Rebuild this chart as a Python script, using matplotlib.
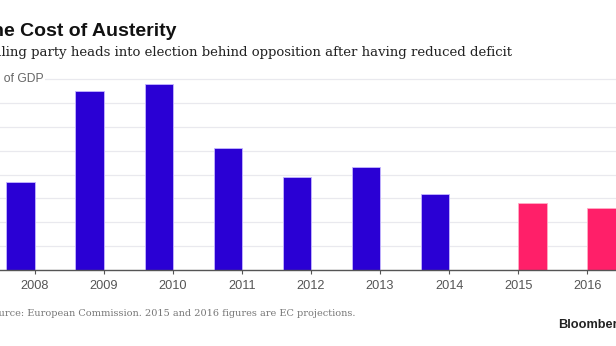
import numpy as np
import matplotlib
matplotlib.use("Agg")
import matplotlib.pyplot as plt

# budget deficit, % of GDP
years_hist = [2008, 2009, 2010, 2011, 2012, 2013, 2014]
deficit_hist = [3.7, 7.5, 7.8, 5.1, 3.9, 4.3, 3.2]
years_proj = [2015, 2016]
deficit_proj = [2.8, 2.6]
year_labels = ["2008", "2009", "2010", "2011", "2012", "2013", "2014", "2015", "2016"]

W, H = 616, 346
fig = plt.figure(figsize=(W / 100, H / 100), dpi=100)

def px(x, y):
    # pixel coords (from top-left) -> figure fraction
    return x / W, 1 - y / H

# axes runs off both sides, like the cropped original
ax = fig.add_axes([0, 76 / H, 1, 195 / H])
ax.bar(years_hist, deficit_hist, width=-0.41, align="edge",
       color="#2a00d4", edgecolor="#c5b6ff", linewidth=0.6, zorder=2)
ax.bar(years_proj, deficit_proj, width=0.41, align="edge",
       color="#ff1f69", edgecolor="#ffadc6", linewidth=0.6, zorder=2)

ax.set_xlim(2007.498, 2016.416)
ax.set_ylim(0, 8.18)
ax.set_xticks(years_hist + years_proj)
ax.set_xticklabels(year_labels, color="#555555", fontsize=9.2, family="Liberation Sans")
ax.set_yticks(range(0, 9))
ax.set_yticklabels([])
ax.tick_params(axis="y", length=0)
ax.tick_params(axis="x", length=3, width=0.8, color="#555555", pad=4)
ax.yaxis.grid(True, color="#e9e9ee", linewidth=0.9, zorder=0)
ax.set_axisbelow(True)
for s in ["top", "left", "right"]:
    ax.spines[s].set_visible(False)
ax.spines["bottom"].set_color("#555555")
ax.spines["bottom"].set_linewidth(1.0)

# unit label sits on the top gridline
fig.text(*px(43.5, 79.5), "8% of GDP", ha="right", va="center", fontsize=8.7,
         color="#666666", family="Liberation Sans",
         bbox=dict(boxstyle="square,pad=0.15", fc="white", ec="none"))

fig.text(*px(176.7, 35.5), "The Cost of Austerity", ha="right", va="baseline",
         fontsize=14, fontweight="bold", color="#111111", family="Liberation Sans")
fig.text(*px(511.7, 56), "Ruling party heads into election behind opposition after having reduced deficit",
         ha="right", va="baseline", fontsize=9.55, color="#222222", family="DejaVu Serif")
fig.text(*px(355, 316.5), "Source: European Commission. 2015 and 2016 figures are EC projections.",
         ha="right", va="baseline", fontsize=7.0, color="#777777", family="DejaVu Serif")
fig.text(*px(558.3, 328), "Bloomberg", ha="left", va="baseline",
         fontsize=9.2, fontweight="bold", color="#222222", family="Liberation Sans")

fig.savefig("out.png", dpi=100)
